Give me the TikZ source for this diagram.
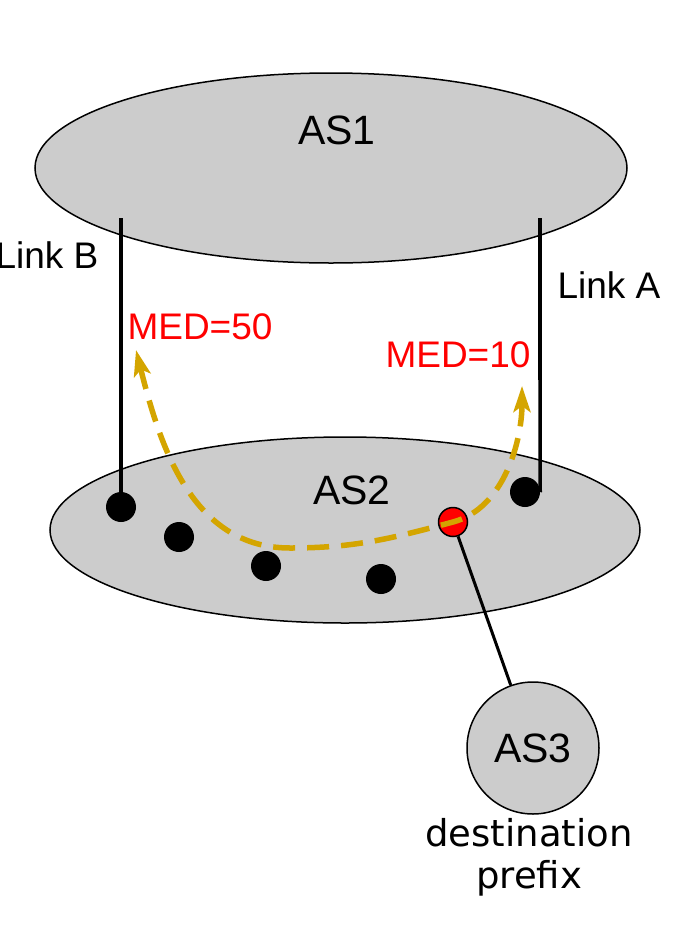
\documentclass[tikz,border=0pt]{standalone}
\usepackage{fontspec}
\setmainfont{Liberation Sans}
\newfontfamily\dejavu{DejaVu Sans}
\usetikzlibrary{arrows.meta,shapes.geometric}
\definecolor{asgray}{HTML}{CCCCCC}
\definecolor{medred}{HTML}{FF0000}
\definecolor{pathgold}{HTML}{D4A500}
\begin{document}
\begin{tikzpicture}[x=1pt,y=-1pt,
  asblob/.style={draw=black,line width=1.5pt,fill=asgray},
  router/.style={circle,fill=black,minimum size=30pt,inner sep=0pt},
  redrouter/.style={circle,fill=medred,draw=black,line width=1.5pt,minimum size=29pt,inner sep=0pt},
  link/.style={line width=3.5pt},
  lbl/.style={font=\fontsize{37}{40}\selectfont,inner sep=0pt},
  aslbl/.style={font=\fontsize{41}{44}\selectfont,inner sep=0pt},
  medlbl/.style={font=\fontsize{37}{40}\selectfont,text=medred,inner sep=0pt},
  medpath/.style={draw=pathgold,line width=5.5pt,dash pattern=on 22pt off 12pt,
    {Stealth[length=26pt,width=17pt,inset=6pt]}-{Stealth[length=26pt,width=17pt,inset=6pt]}}
]
\useasboundingbox (0,0) rectangle (677,932);
% ASes
\node[asblob,ellipse,minimum width=592pt,minimum height=190pt] (as1) at (331,168) {};
\node[aslbl] at (337,130) {AS1};
\coordinate (lbTop) at (121,218);
\coordinate (laTop) at (540,218);
% links
\draw[link] (lbTop) -- (121,380);
\draw[link] (laTop) -- (540,380);
\node[asblob,ellipse,minimum width=590pt,minimum height=186pt] (as2ell) at (345,530) {};
\node[aslbl] (as2) at (352,490) {AS2};
% routers
\node[router] (r1) at (121,507) {};
\node[router] (r2) at (179,537) {};
\node[router] (r3) at (266,566) {};
\node[router] (r4) at (381,579) {};
\node[router] (r5) at (525,492) {};
\node[redrouter] (rr) at (453,522) {};
\draw[link] (lbTop) -- (r1.center);
\draw[link] (laTop) -- (540,490) to[out=-90,in=0] (r5.east);
% AS3
\node[asblob,circle,minimum size=132pt,inner sep=0pt] (as3) at (533,748) {};
\node[aslbl] at (533,748) {AS3};
\draw[line width=3pt] (rr) -- (as3);
\node[font=\dejavu\fontsize{37}{42}\selectfont,align=center,anchor=north,inner sep=0pt] (dest) at (529,818) {destination\\prefix};
% labels
\node[lbl] (lb) at (47,255) {Link B};
\node[lbl] (la) at (609,285) {Link A};
\node[medlbl] (m50) at (200,327) {MED=50};
\node[medlbl] (m10) at (458,355) {MED=10};
% MED path
\coordinate (t50) at (136,350);
\coordinate (t10) at (522,386);
\coordinate (mid) at (290,548);
\draw[medpath] (t50) to[out=-76,in=180] (mid) to[out=0,in=195] (rr.center) to[out=15,in=-90,looseness=0.9] (t10);
\end{tikzpicture}
\end{document}
